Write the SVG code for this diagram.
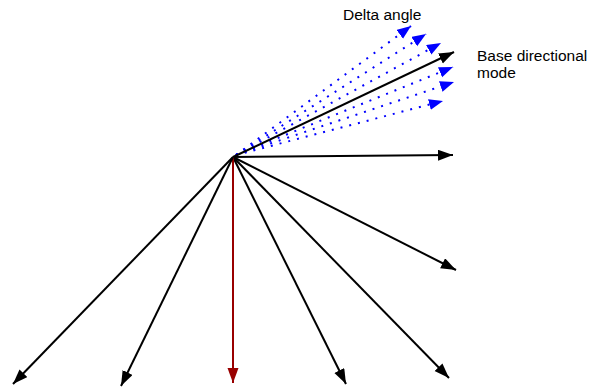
<svg xmlns="http://www.w3.org/2000/svg" width="597" height="388" viewBox="0 0 597 388">
<style>
.k{stroke:#000;stroke-width:2;fill:none;marker-end:url(#ak)}
.r{stroke:#990000;stroke-width:2;fill:none;marker-end:url(#ar)}
.b{stroke:#0000ff;stroke-width:2;fill:none;stroke-dasharray:2 7;marker-end:url(#ab)}
.t{font-family:"Liberation Sans",Arial,sans-serif;font-size:15.5px;fill:#000}
</style>
<defs>
<marker id="ak" markerUnits="userSpaceOnUse" markerWidth="16" markerHeight="12" refX="15" refY="5.5" orient="auto"><path d="M0,0 L15,5.5 L0,11 Z" fill="#000"/></marker>
<marker id="ar" markerUnits="userSpaceOnUse" markerWidth="16" markerHeight="12" refX="15" refY="5.5" orient="auto"><path d="M0,0 L15,5.5 L0,11 Z" fill="#990000"/></marker>
<marker id="ab" markerUnits="userSpaceOnUse" markerWidth="16" markerHeight="12" refX="14" refY="5.5" orient="auto"><path d="M0,0 L14,5.5 L0,11 Z" fill="#0000ff"/></marker>
</defs>
<g id="connectors">
<line class="b" x1="236" y1="155" x2="411" y2="26"/>
<line class="b" x1="236" y1="155" x2="426" y2="34"/>
<line class="b" x1="236" y1="155" x2="441" y2="43"/>
<line class="b" x1="236" y1="155" x2="453" y2="67"/>
<line class="b" x1="236" y1="155" x2="454" y2="82"/>
<line class="b" x1="236" y1="155" x2="443" y2="101"/>
<line class="k" x1="233" y1="157" x2="454" y2="52"/>
<line class="k" x1="233" y1="157" x2="453" y2="155"/>
<line class="k" x1="233" y1="157" x2="456" y2="270"/>
<line class="k" x1="233" y1="157" x2="449" y2="378"/>
<line class="k" x1="233" y1="157" x2="346" y2="384"/>
<line class="r" x1="233" y1="157" x2="233" y2="383"/>
<line class="k" x1="233" y1="157" x2="121" y2="386"/>
<line class="k" x1="233" y1="157" x2="13" y2="384"/>
</g>
<g id="label-delta"><text class="t" x="343" y="20">Delta angle</text></g>
<g id="label-base"><text class="t" x="477" y="61">Base directional</text><text class="t" x="477" y="78">mode</text></g>
</svg>
